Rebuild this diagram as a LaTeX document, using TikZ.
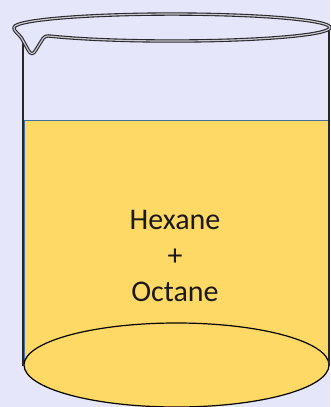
\documentclass[tikz,border=0pt]{standalone}
\usepackage{fontspec}
\setmainfont{Carlito}
\definecolor{bgpaper}{RGB}{230,230,250}
\definecolor{liquid}{RGB}{255,217,102}
\definecolor{liquidedge}{RGB}{65,113,156}
\definecolor{glassline}{RGB}{40,40,44}
\definecolor{glasslight}{RGB}{200,200,208}
\tikzset{
  glasswall/.style={draw=glassline, line width=2pt},
  rim/.style={draw=glassline, line width=1.1pt, double=glasslight, double distance=1.2pt, line join=round},
  label/.style={font=\fontsize{30}{36}\selectfont, text=black!90, anchor=base, inner sep=0pt}
}
\begin{document}
\begin{tikzpicture}[x=1pt,y=-1pt]
  % paper
  \fill[bgpaper] (0,0) rectangle (330,407);
  \useasboundingbox (0,0) rectangle (330,407);

  % liquid body
  \fill[liquid] (24,120) -- (329,120) -- (329,365)
    arc[start angle=0, end angle=180, x radius=152.5, y radius=42] -- cycle;
  \draw[liquidedge, line width=1.2pt] (24.5,365) -- (24.5,120.5) -- (328.5,120.5);

  % liquid surface seen at the bottom
  \draw[black, line width=1.2pt, fill=liquid] (176.5,365) ellipse[x radius=152.5, y radius=42];

  % glass walls
  \coordinate (wl) at (22.5,40);
  \coordinate (wlb) at (22.5,366);
  \coordinate (wr) at (328.5,31);
  \coordinate (wrb) at (328.5,366);
  \draw[glasswall] (wl) -- (wlb);
  \draw[glasswall] (wr) -- (wrb);

  % rim with pouring spout
  \draw[rim] (48,35.9)
    arc[start angle=141.7, end angle=-180, x radius=158, y radius=13.5]
    .. controls (13.5,31) and (18,33) .. (21.5,38)
    -- (28.5,50.5)
    .. controls (30.5,54.5) and (33.5,54.5) .. (35.5,50.5)
    -- (43,38.5)
    .. controls (44.5,36.5) and (46,36) .. (48,35.9);

  % contents
  \node[label] (hexane) at (175,229) {Hexane};
  \node[label] (plus) at (175,265) {+};
  \node[label] (octane) at (175,301) {Octane};
\end{tikzpicture}
\end{document}
